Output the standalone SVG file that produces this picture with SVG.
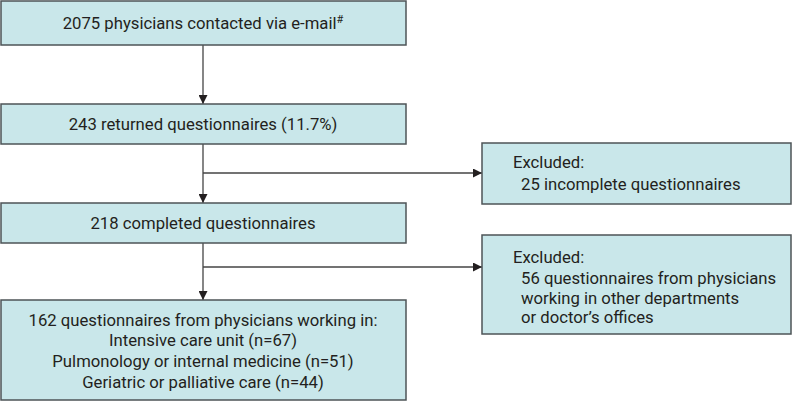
<svg xmlns="http://www.w3.org/2000/svg" width="792" height="401" viewBox="0 0 792 401">
<style>
.box{fill:#c9e7ea;stroke:#4d5457;stroke-width:1.5}
text{font-family:Roboto,"Liberation Sans",sans-serif;font-size:16.7px;fill:#231f20}
.c{text-anchor:middle}
.ln{stroke:#444;stroke-width:1.3;fill:none}
</style>
<defs>
<marker id="ah" viewBox="0 0 10 10" refX="10" refY="5" markerWidth="9" markerHeight="9" markerUnits="userSpaceOnUse" orient="auto">
<path d="M0,0 L10,5 L0,10 z" fill="#231f20"/>
</marker>
</defs>
<g id="connectors">
<line class="ln" x1="203" y1="45" x2="203" y2="104" marker-end="url(#ah)"/>
<line class="ln" x1="203" y1="144" x2="203" y2="203" marker-end="url(#ah)"/>
<line class="ln" x1="203" y1="173" x2="482" y2="173" marker-end="url(#ah)"/>
<line class="ln" x1="203" y1="243" x2="203" y2="300" marker-end="url(#ah)"/>
<line class="ln" x1="203" y1="267" x2="482" y2="267" marker-end="url(#ah)"/>
</g>
<g id="n1">
<rect class="box" x="1" y="1" width="405" height="44"/>
<text class="c" x="203" y="29">2075 physicians contacted via e-mail<tspan font-size="11" dy="-6">#</tspan></text>
</g>
<g id="n2">
<rect class="box" x="1" y="104" width="405" height="40"/>
<text class="c" x="203" y="130">243 returned questionnaires (11.7%)</text>
</g>
<g id="n3">
<rect class="box" x="1" y="203" width="405" height="40"/>
<text class="c" x="203" y="229">218 completed questionnaires</text>
</g>
<g id="n4">
<rect class="box" x="1" y="300" width="405" height="100"/>
<text class="c" x="203" y="326">162 questionnaires from physicians working in:</text>
<text class="c" x="203" y="346">Intensive care unit (n=67)</text>
<text class="c" x="203" y="367">Pulmonology or internal medicine (n=51)</text>
<text class="c" x="203" y="388">Geriatric or palliative care (n=44)</text>
</g>
<g id="x1">
<rect class="box" x="482" y="143" width="309" height="61"/>
<text x="513" y="168">Excluded:</text>
<text x="521" y="190">25 incomplete questionnaires</text>
</g>
<g id="x2">
<rect class="box" x="482" y="235" width="309" height="99"/>
<text x="513" y="263">Excluded:</text>
<text x="521" y="284">56 questionnaires from physicians</text>
<text x="521" y="304">working in other departments</text>
<text x="521" y="323">or doctor’s offices</text>
</g>
</svg>
